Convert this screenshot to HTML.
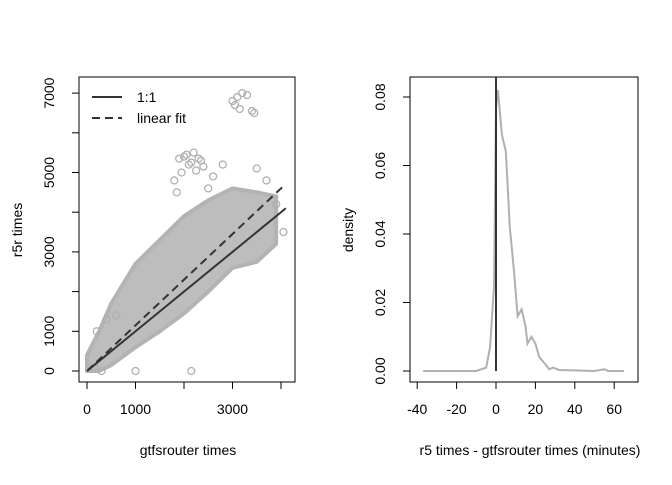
<!DOCTYPE html>
<html><head><meta charset="utf-8"><style>
body{margin:0;background:#fff}
svg text{font-family:"Liberation Sans",sans-serif;font-size:14px;fill:#000}
</style></head><body>
<svg width="672" height="480" xmlns="http://www.w3.org/2000/svg">
<g id="left"></g>
<g id="right"></g>
</svg>
<script>
// Scatter data (gtfsrouter times vs r5r times)
const bandX=[0,250,500,1000,1500,2000,2500,3000,3500,3900];
const bandLow=[0,0,150,600,1000,1450,2000,2600,2750,3200];
const bandHigh=[400,1000,1700,2700,3300,3900,4300,4600,4500,4400];
const outX=[1900,2000,2100,2200,2300,2400,1950,2250,2050,2350,2150,3000,3100,3200,3300,3400,3450,3050,3150,1000,2150,200,400,600,3500,3700,3900,4050,2600,2800,2500,300,150,1800,1850];
const outY=[5350,5400,5200,5500,5350,5150,5000,5050,5450,5300,5250,6800,6900,7000,6950,6550,6500,6700,6600,0,0,1000,1300,1400,5100,4800,4200,3500,4900,5200,4600,0,100,4800,4500];
const fitSlope=1.15;
// Density data
const densX=[-37,-10,-5,-3,-1,0,1,3,5,7,9,11,13,15,16,18,20,22,25,27,29,32,40,50,55,57,65];
const densY=[0,0,0.001,0.007,0.025,0.077,0.082,0.069,0.064,0.042,0.03,0.016,0.018,0.013,0.008,0.01,0.008,0.004,0.002,0.0005,0.001,0.0003,0.0002,0,0.0005,0,0];
const lxTicks=[0,1000,2000,3000,4000], lxLabels=["0","1000","","3000",""];
const lyTicks=[0,1000,2000,3000,4000,5000,6000,7000], lyLabels=["0","1000","","3000","","5000","","7000"];
const rxTicks=[-40,-20,0,20,40,60], ryTicks=[0,0.02,0.04,0.06,0.08];

const NS="http://www.w3.org/2000/svg";
function mk(p,t,a,txt){const e=document.createElementNS(NS,t);for(const k in a)e.setAttribute(k,a[k]);if(txt!==undefined)e.textContent=txt;p.appendChild(e);return e;}
const L=document.getElementById('left'),R=document.getElementById('right');
const lx=v=>87+v*0.0485, ly=v=>371-v*0.0397;
const rx=v=>496+v*1.97, ry=v=>371-v*3425;

let e=mk(L,'rect',{x:79,y:77,width:216,height:305,fill:'none',stroke:'#000'});

let pts=bandX.map((x,i)=>lx(x)+','+ly(bandHigh[i])).concat(bandX.map((x,i)=>lx(x)+','+ly(bandLow[i])).reverse()).join(' ');
e=mk(L,'polygon',{points:pts,fill:'#bdbdbd',stroke:'#b3b3b3','stroke-width':4,'stroke-linejoin':'round'});

outX.forEach((x,i)=>{const c=mk(L,'circle',{cx:lx(x),cy:ly(outY[i]),r:3.5,fill:'none',stroke:'#b0b0b0','stroke-width':1.3});
});
e=mk(L,'line',{x1:lx(0),y1:ly(0),x2:lx(4100),y2:ly(4100),stroke:'#333','stroke-width':2});

e=mk(L,'line',{x1:lx(0),y1:ly(0),x2:lx(4100),y2:ly(4100*fitSlope),stroke:'#333','stroke-width':2,'stroke-dasharray':'8,5'});

lxTicks.forEach((t,i)=>{mk(L,'line',{x1:lx(t),y1:382,x2:lx(t),y2:389,stroke:'#000'});
 if(lxLabels[i]){const tx=mk(L,'text',{x:lx(t),y:414,'text-anchor':'middle'},lxLabels[i]);}});
mk(L,'line',{x1:lx(0),y1:382,x2:lx(4000),y2:382,stroke:'#000'});
lyTicks.forEach((t,i)=>{mk(L,'line',{x1:72,y1:ly(t),x2:79,y2:ly(t),stroke:'#000'});
 if(lyLabels[i]){const tx=mk(L,'text',{x:0,y:0,'text-anchor':'middle',transform:`translate(54,${ly(t)}) rotate(-90)`},lyLabels[i]);}});
e=mk(L,'text',{x:188,y:455,'text-anchor':'middle'},'gtfsrouter times');
e=mk(L,'text',{x:0,y:0,'text-anchor':'middle',transform:'translate(22,230) rotate(-90)'},'r5r times');
mk(L,'line',{x1:92,y1:97,x2:122,y2:97,stroke:'#333','stroke-width':2});
e=mk(L,'text',{x:137,y:102},'1:1');
mk(L,'line',{x1:92,y1:118,x2:122,y2:118,stroke:'#333','stroke-width':2,'stroke-dasharray':'8,5'});
e=mk(L,'text',{x:137,y:123},'linear fit');

e=mk(R,'rect',{x:410,y:77,width:228,height:305,fill:'none',stroke:'#000'});

e=mk(R,'polyline',{points:densX.map((x,i)=>rx(x)+','+ry(densY[i])).join(' '),fill:'none',stroke:'#b0b0b0','stroke-width':2});

e=mk(R,'line',{x1:rx(0),y1:77,x2:rx(0),y2:ry(0),stroke:'#333','stroke-width':2});

mk(R,'line',{x1:rx(-40),y1:382,x2:rx(60),y2:382,stroke:'#000'});
rxTicks.forEach(t=>{mk(R,'line',{x1:rx(t),y1:382,x2:rx(t),y2:389,stroke:'#000'});
 const tx=mk(R,'text',{x:rx(t),y:414,'text-anchor':'middle'},String(t));});
mk(R,'line',{x1:410,y1:ry(0),x2:410,y2:ry(0.08),stroke:'#000'});
ryTicks.forEach(t=>{mk(R,'line',{x1:403,y1:ry(t),x2:410,y2:ry(t),stroke:'#000'});
 const tx=mk(R,'text',{x:0,y:0,'text-anchor':'middle',transform:`translate(385,${ry(t)}) rotate(-90)`},t.toFixed(2));});
e=mk(R,'text',{x:530,y:455,'text-anchor':'middle'},'r5 times - gtfsrouter times (minutes)');
e=mk(R,'text',{x:0,y:0,'text-anchor':'middle',transform:'translate(353,230) rotate(-90)'},'density');
</script>
</body></html>
